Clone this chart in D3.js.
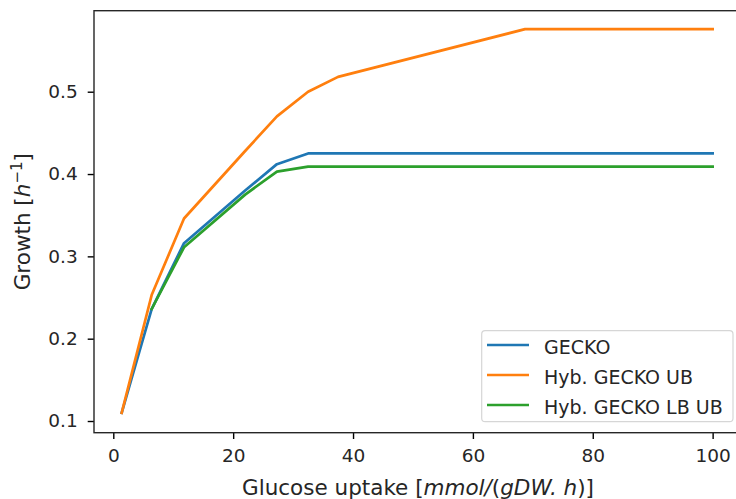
<!DOCTYPE html>
<html>
<head>
<meta charset="utf-8">
<script src="https://cdn.jsdelivr.net/npm/d3@7"></script>
<style>
  html, body { margin: 0; padding: 0; background: #fff; }
  svg { display: block; font-family: "DejaVu Sans", sans-serif; }
</style>
</head>
<body>
<svg id="chart" width="736" height="499"></svg>
<script>
// Glucose uptake rates (mmol/(gDW.h)) and predicted growth rates (1/h)
const uptakeGecko = [1.4, 6.4, 11.8, 22.0, 27.3, 32.5, 37.5, 68.7, 100];
const growthGecko = [0.110, 0.236, 0.316, 0.380, 0.412, 0.425, 0.425, 0.425, 0.425];

const uptakeUB = [1.4, 6.4, 11.8, 22.0, 27.3, 32.5, 37.5, 68.7, 100];
const growthUB = [0.110, 0.253, 0.346, 0.428, 0.470, 0.500, 0.518, 0.576, 0.576];

const uptakeLBUB = [6.4, 11.8, 22.0, 27.3, 32.5, 37.5, 68.7, 100];
const growthLBUB = [0.236, 0.311, 0.375, 0.403, 0.409, 0.409, 0.409, 0.409];

const seriesNames = ["GECKO", "Hyb. GECKO UB", "Hyb. GECKO LB UB"];
const seriesColors = ["#1f77b4", "#ff7f0e", "#2ca02c"];

const xTicks = [0, 20, 40, 60, 80, 100];
const yTicks = [0.1, 0.2, 0.3, 0.4, 0.5];

const series = [
  { name: seriesNames[0], color: seriesColors[0], x: uptakeGecko, y: growthGecko },
  { name: seriesNames[1], color: seriesColors[1], x: uptakeUB, y: growthUB },
  { name: seriesNames[2], color: seriesColors[2], x: uptakeLBUB, y: growthLBUB }
];

const svg = d3.select("#chart");
const tickFont = 18.5;
const legendFont = 19;
const labelFont = 21.5;
const plot = { left: 94, top: 10.7, right: 742, bottom: 432.7 };

const x = d3.scaleLinear().domain([-3.22, 104.9]).range([plot.left, plot.right]);
const y = d3.scaleLinear().domain([0.0858, 0.5984]).range([plot.bottom, plot.top]);

// Lines
const line = d3.line().x(d => x(d[0])).y(d => y(d[1]));
svg.append("clipPath").attr("id", "plotclip").append("rect")
  .attr("x", plot.left).attr("y", plot.top)
  .attr("width", plot.right - plot.left).attr("height", plot.bottom - plot.top);

svg.append("g").attr("clip-path", "url(#plotclip)")
  .selectAll("path").data(series).join("path")
  .attr("d", s => line(s.x.map((v, i) => [v, s.y[i]])))
  .attr("fill", "none")
  .attr("stroke", s => s.color)
  .attr("stroke-width", 2.7)
  .attr("stroke-linejoin", "round")
  .attr("stroke-linecap", "square");

// Axes
const xAxis = d3.axisBottom(x).tickValues(xTicks).tickFormat(d3.format("d"))
  .tickSize(6.3).tickPadding(9.5).tickSizeOuter(0);
const yAxis = d3.axisLeft(y).tickValues(yTicks).tickFormat(d3.format(".1f"))
  .tickSize(6.3).tickPadding(10).tickSizeOuter(0);

const gx = svg.append("g").attr("transform", `translate(0,${plot.bottom})`).call(xAxis);
const gy = svg.append("g").attr("transform", `translate(${plot.left},0)`).call(yAxis);

[gx, gy].forEach(g => {
  g.select(".domain").remove();
  g.selectAll(".tick line").attr("stroke", "#000").attr("stroke-width", 1.4);
  g.selectAll(".tick text").attr("fill", "#262626")
    .style("font-family", "DejaVu Sans").style("font-size", tickFont + "px");
});

// Frame
svg.append("rect")
  .attr("x", plot.left).attr("y", plot.top)
  .attr("width", plot.right - plot.left).attr("height", plot.bottom - plot.top)
  .attr("fill", "none").attr("stroke", "#262626").attr("stroke-width", 1.4);

// Axis labels
const xl = svg.append("text")
  .attr("x", (plot.left + plot.right) / 2).attr("y", 494.5)
  .attr("text-anchor", "middle").attr("fill", "#262626")
  .style("font-size", labelFont + "px");
xl.append("tspan").text("Glucose uptake [");
xl.append("tspan").style("font-style", "italic").text("mmol/");
xl.append("tspan").text("(");
xl.append("tspan").style("font-style", "italic").text("gDW. h");
xl.append("tspan").text(")]");

const yl = svg.append("text")
  .attr("transform", `translate(30,${(plot.top + plot.bottom) / 2}) rotate(-90)`)
  .attr("text-anchor", "middle").attr("fill", "#262626")
  .style("font-size", labelFont + "px");
yl.append("tspan").text("Growth [");
yl.append("tspan").style("font-style", "italic").text("h");
yl.append("tspan").attr("dy", -8).style("font-size", "15px").text("−1");
yl.append("tspan").attr("dy", 8).text("]");

// Legend
const legend = svg.append("g");
legend.append("rect")
  .attr("x", 481.7).attr("y", 330.7).attr("width", 251.3).attr("height", 91)
  .attr("rx", 3.5).attr("fill", "#fff").attr("fill-opacity", 0.8)
  .attr("stroke", "#d6d6d6").attr("stroke-width", 1.2);
const rows = legend.selectAll("g.row").data(series).join("g")
  .attr("class", "row")
  .attr("transform", (d, i) => `translate(0,${345 + i * 30})`);
rows.append("line")
  .attr("x1", 487).attr("x2", 529)
  .attr("stroke", d => d.color).attr("stroke-width", 2.7);
rows.append("text")
  .attr("x", 544).attr("dy", 8.5)
  .attr("fill", "#262626").style("font-size", legendFont + "px")
  .text(d => d.name);
</script>
</body>
</html>
